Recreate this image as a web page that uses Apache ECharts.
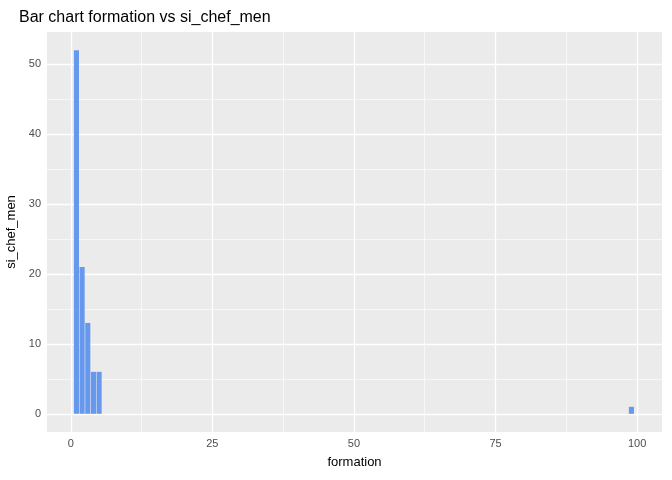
<!DOCTYPE html>
<html>
<head>
<meta charset="UTF-8">
<script src="https://cdn.jsdelivr.net/npm/echarts@6/dist/echarts.min.js"></script>
<style>html,body,#main{margin:0;padding:0;width:672px;height:480px;background:#fff;}</style>
</head>
<body>
<div id="main"></div>
<script>
const formation = [1, 2, 3, 4, 5, 99];
const siChefMen = [52, 21, 13, 6, 6, 1];
const xTicks = [0, 25, 50, 75, 100];
const xMinor = [12.5, 37.5, 62.5, 87.5];
const yTicks = [0, 10, 20, 30, 40, 50];
const yMinor = [5, 15, 25, 35, 45];

const chart = echarts.init(document.getElementById('main'));
const vLine = (v, w) => ({ xAxis: v, lineStyle: { color: '#fff', width: w, type: 'solid' } });
const hLine = (v, w) => ({ yAxis: v, lineStyle: { color: '#fff', width: w, type: 'solid' } });
const lbl = { color: '#4d4d4d', fontSize: 11, fontFamily: 'Liberation Sans, Arial' };

chart.setOption({
  animation: false,
  title: { text: 'Bar chart formation vs si_chef_men', left: 14, top: 5,
    textStyle: { fontSize: 16, fontWeight: 'normal', color: '#000', fontFamily: 'Liberation Sans, Arial' } },
  grid: { left: 47, right: 10, top: 32, bottom: 48, show: true, backgroundColor: '#EBEBEB', borderWidth: 0,
    containLabel: false, outerBoundsMode: 'none' },
  xAxis: {
    type: 'value', min: -4.2, max: 104.4,
    name: 'formation', nameLocation: 'middle', nameGap: 24,
    nameTextStyle: { fontSize: 13, color: '#000', fontFamily: 'Liberation Sans, Arial' },
    splitLine: { show: false }, axisLine: { show: false },
    axisTick: { show: true, customValues: xTicks, length: 3, lineStyle: { color: '#333' } },
    axisLabel: Object.assign({ customValues: xTicks, margin: 6 }, lbl)
  },
  yAxis: {
    type: 'value', min: -2.6, max: 54.6,
    name: 'si_chef_men', nameLocation: 'middle', nameGap: 28, nameRotate: 90,
    nameTextStyle: { fontSize: 13, color: '#000', fontFamily: 'Liberation Sans, Arial' },
    splitLine: { show: false }, axisLine: { show: false },
    axisTick: { show: true, customValues: yTicks, length: 3, lineStyle: { color: '#333' } },
    axisLabel: Object.assign({ customValues: yTicks, margin: 6 }, lbl)
  },
  series: [{
    type: 'custom',
    data: formation.map((f, i) => [f, siChefMen[i]]),
    renderItem: (params, api) => {
      const x = api.value(0), y = api.value(1);
      const p0 = api.coord([x - 0.45, y]);
      const p1 = api.coord([x + 0.45, 0]);
      return { type: 'rect', shape: { x: p0[0], y: p0[1], width: p1[0] - p0[0], height: p1[1] - p0[1] },
        style: { fill: '#6699EE' } };
    },
    z: 3,
    markLine: {
      silent: true, symbol: 'none', label: { show: false }, z: 1,
      data: [
        ...xMinor.map(v => vLine(v, 0.6)), ...xTicks.map(v => vLine(v, 1.3)),
        ...yMinor.map(v => hLine(v, 0.6)), ...yTicks.map(v => hLine(v, 1.3))
      ]
    }
  }]
});
</script>
</body>
</html>
